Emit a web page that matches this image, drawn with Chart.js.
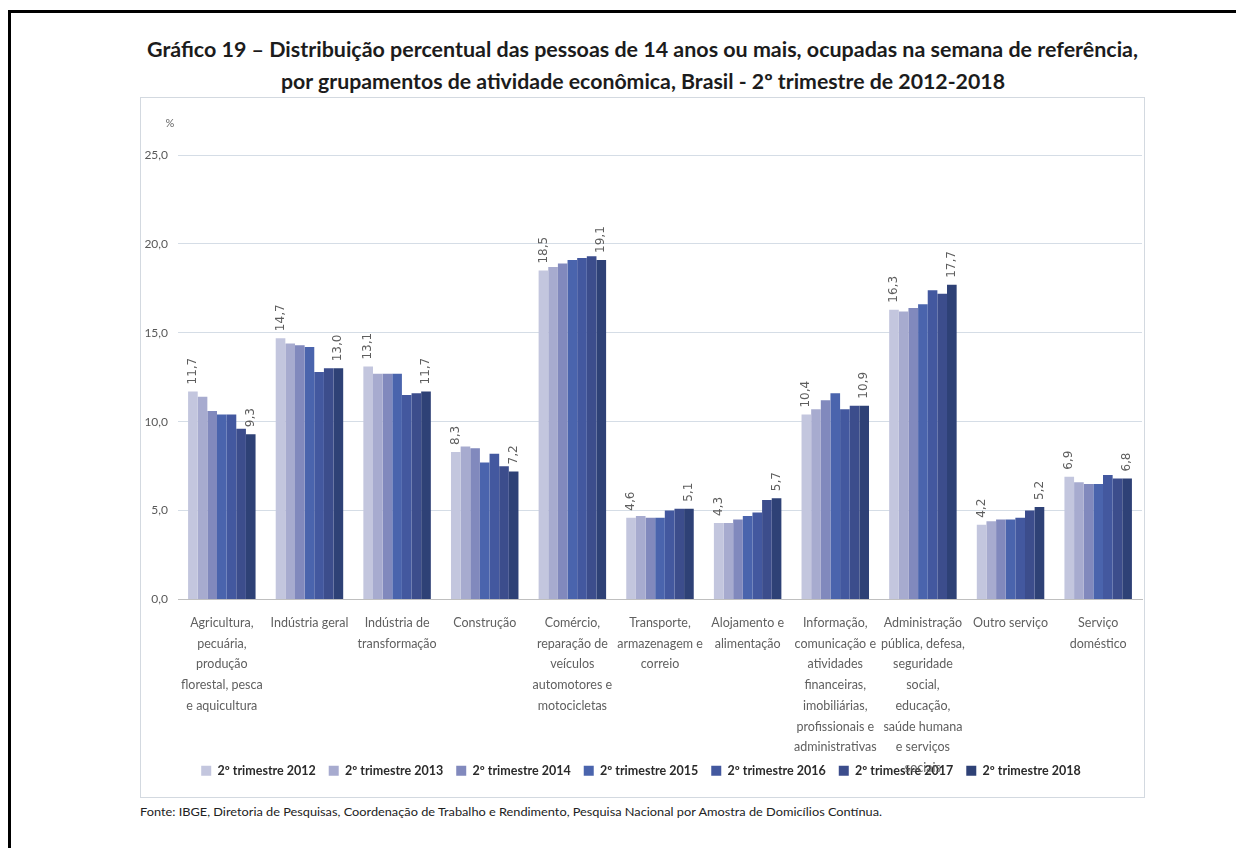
<!DOCTYPE html>
<html><head><meta charset="utf-8">
<script src="https://cdn.jsdelivr.net/npm/chart.js@4.4.0/dist/chart.umd.min.js"></script>
<style>
html,body{margin:0;padding:0;background:#fff;width:1236px;height:848px;overflow:hidden;}
#frame{position:absolute;left:8px;top:10px;width:1228px;height:838px;border-left:3px solid #000;border-top:3px solid #000;box-sizing:border-box;}
.fit{position:absolute;white-space:nowrap;line-height:1;transform-origin:left center;display:inline-block}
.title{font-family:Lato,"Open Sans",sans-serif;font-weight:bold;color:#1c1c1c;font-size:21px;}
.foot{font-family:Lato,"Open Sans",sans-serif;color:#222;font-size:11px;}
#box{position:absolute;left:140px;top:97px;width:1005px;height:701px;border:1px solid #d3d9e0;box-sizing:border-box}
#wrap{position:absolute;left:140px;top:97px;width:1005px;height:701px}
</style>
</head><body>
<div id="frame"></div>
<span class="fit title" id="t1" data-x="147" data-w="991" data-cy="48">Gráfico 19 – Distribuição percentual das pessoas de 14 anos ou mais, ocupadas na semana de referência,</span>
<span class="fit title" id="t2" data-x="281" data-w="724" data-cy="80">por grupamentos de atividade econômica, Brasil - 2º trimestre de 2012-2018</span>
<div id="box"></div>
<div id="wrap"><canvas id="c" width="1005" height="701"></canvas></div>
<span class="fit foot" id="f1" data-x="140" data-w="742" data-cy="811">Fonte: IBGE, Diretoria de Pesquisas, Coordenação de Trabalho e Rendimento, Pesquisa Nacional por Amostra de Domicílios Contínua.</span>
<script>
const categories = [
  ['Agricultura,','pecuária,','produção','florestal, pesca','e aquicultura'],
  ['Indústria geral'],
  ['Indústria de','transformação'],
  ['Construção'],
  ['Comércio,','reparação de','veículos','automotores e','motocicletas'],
  ['Transporte,','armazenagem e','correio'],
  ['Alojamento e','alimentação'],
  ['Informação,','comunicação e','atividades','financeiras,','imobiliárias,','profissionais e','administrativas'],
  ['Administração','pública, defesa,','seguridade','social,','educação,','saúde humana','e serviços','sociais'],
  ['Outro serviço'],
  ['Serviço','doméstico']
];
const seriesLabels = ['2º trimestre 2012','2º trimestre 2013','2º trimestre 2014','2º trimestre 2015','2º trimestre 2016','2º trimestre 2017','2º trimestre 2018'];
const v2012 = [11.7,14.7,13.1,8.3,18.5,4.6,4.3,10.4,16.3,4.2,6.9];
const v2013 = [11.4,14.4,12.7,8.6,18.7,4.7,4.3,10.7,16.2,4.4,6.6];
const v2014 = [10.6,14.3,12.7,8.5,18.9,4.6,4.5,11.2,16.4,4.5,6.5];
const v2015 = [10.4,14.2,12.7,7.7,19.1,4.6,4.7,11.6,16.6,4.5,6.5];
const v2016 = [10.4,12.8,11.5,8.2,19.2,5.0,4.9,10.7,17.4,4.6,7.0];
const v2017 = [9.6,13.0,11.6,7.5,19.3,5.1,5.6,10.9,17.2,5.0,6.8];
const v2018 = [9.3,13.0,11.7,7.2,19.1,5.1,5.7,10.9,17.7,5.2,6.8];
const yTicks = [0,5,10,15,20,25];
const labelledSeries = [0,6];

const seriesValues = [v2012,v2013,v2014,v2015,v2016,v2017,v2018];
const colors = ['#c3c6de','#a7abcf','#8189bd','#4a64ad','#43589f','#3c4d8c','#2e4176'];
const fmt = v => v.toFixed(1).replace('.',',');

function fitText(){
  document.querySelectorAll('.fit').forEach(el=>{
    el.style.transform='none';
    const w = el.getBoundingClientRect().width;
    const h = el.getBoundingClientRect().height;
    el.style.left = el.dataset.x+'px';
    el.style.top = (parseFloat(el.dataset.cy)-h/2)+'px';
    el.style.transform = 'scaleX('+(parseFloat(el.dataset.w)/w)+')';
  });
}

const valuePlugin = {
  id:'vals',
  afterDatasetsDraw(chart){
    const ctx = chart.ctx;
    labelledSeries.forEach(di=>{
      const meta = chart.getDatasetMeta(di);
      meta.data.forEach((bar,i)=>{
        ctx.save();
        ctx.translate(bar.x, bar.y-7);
        ctx.rotate(-Math.PI/2);
        ctx.font = '12px "DejaVu Sans"';
        ctx.fillStyle = '#5e5e5e';
        ctx.textAlign = 'left';
        ctx.textBaseline = 'middle';
        ctx.fillText(fmt(chart.data.datasets[di].data[i]),0,0);
        ctx.restore();
      });
    });
  }
};
const unitPlugin = {
  id:'unit',
  afterDraw(chart){
    const ctx = chart.ctx;
    ctx.save();
    ctx.font = '11px Lato';
    ctx.fillStyle = '#666';
    ctx.textAlign = 'center';
    ctx.textBaseline = 'middle';
    ctx.fillText('%', chart.chartArea.left-8, chart.chartArea.top-32);
    ctx.restore();
  }
};

function draw(){
  fitText();
  new Chart(document.getElementById('c'),{
    type:'bar',
    data:{
      labels:categories,
      datasets:seriesValues.map((d,i)=>({label:seriesLabels[i],data:d,backgroundColor:colors[i],borderWidth:0,categoryPercentage:0.77,barPercentage:1.0}))
    },
    options:{
      responsive:false,
      animation:false,
      layout:{padding:{top:58,right:3,left:0,bottom:11}},
      plugins:{
        tooltip:{enabled:false},
        legend:{
          position:'bottom',
          labels:{boxWidth:10,boxHeight:10,padding:13,color:'#2b2b2b',font:{family:'Lato',size:12.5,weight:'bold'}}
        }
      },
      scales:{
        x:{
          grid:{display:false,drawTicks:false},
          border:{display:true,color:'#bfbfbf',width:1},
          ticks:{autoSkip:false,maxRotation:0,minRotation:0,padding:13,color:'#606060',font:{family:'Lato',size:12.5,lineHeight:1.66}},
          afterFit(s){ s.height = 152; s._computeLabelArea = () => undefined; }
        },
        y:{
          min:0,max:25,
          afterBuildTicks(s){ s.ticks = yTicks.map(v=>({value:v})); },
          grid:{color:'#d5dde6',drawTicks:false},
          border:{display:false},
          ticks:{padding:10,color:'#595959',font:{family:'Lato',size:12},callback:v=>fmt(v)},
          afterFit(s){ s.width = 38; }
        }
      }
    },
    plugins:[valuePlugin,unitPlugin]
  });
}
if (document.fonts && document.fonts.ready) { document.fonts.ready.then(draw); } else { draw(); }
</script>
</body></html>
